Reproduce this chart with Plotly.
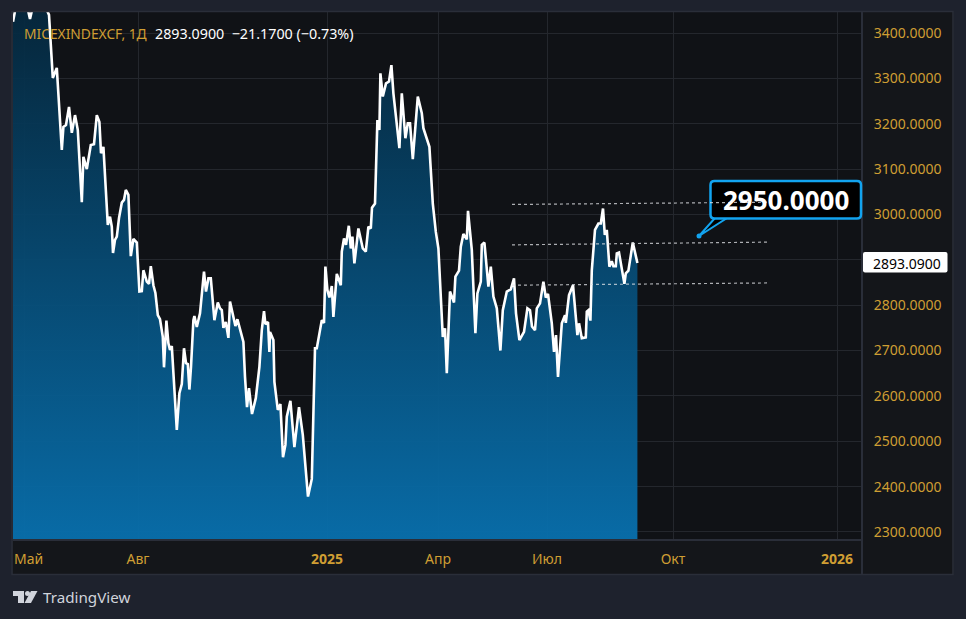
import plotly.graph_objects as go

# ---- data ----
bars = [0, 1.5, 7, 8.5, 10, 16, 18, 18.5, 19.9, 21.9, 24.4, 25.2, 26.5, 28, 29.4, 31, 32.4, 34.4, 35.2, 36.9,
        38.9, 40.5, 41.9, 43.2, 44, 45.2, 46, 47.4, 48.5, 49.4, 50, 51, 51.9, 53, 54.4, 55.5, 56.4, 57.7, 58.9, 60.2,
        61.9, 63.2, 64.4, 65.2, 66.9, 68, 68.9, 70.2, 71.2, 72.4, 73.5, 74.9, 75.5, 76.7, 77.7, 78.5, 79.4, 80.5, 81.9, 83.2,
        84.4, 85.5, 86.5, 87.4, 88.2, 89, 90.2, 90.7, 91.9, 93.5, 95.5, 96.5, 97.7, 98.9, 100.7, 102.4, 103.5, 104.4, 105.2, 106.4,
        107.7, 108.5, 110.2, 111.2, 112.2, 113.9, 115.2, 116, 117, 118, 119.5, 121.4, 123.2, 124.4, 125.5, 126.2, 127.5, 128.2, 128.5, 130.2,
        130.7, 132.4, 133.7, 135, 136.2, 136.9, 138.7, 140.7, 143, 144.9, 147.5, 149.4, 151, 151.9, 154.4, 155.5, 156.2, 157.2, 158.2, 159.4,
        160.2, 161.9, 163.9, 164.4, 165.5, 166.5, 167.9, 168.9, 169.7, 170.7, 172.7, 174.9, 176.4, 177.7, 178.9, 179.5, 181, 182.2, 183.2, 183.7,
        184.9, 186.5, 188, 189.2, 190.2, 193.2, 194.4, 196.2, 197.4, 198.5, 199.9, 202.4, 204.4, 205.2, 208.2, 209.9, 211.4, 212.7, 214.9, 216,
        216.9, 218.5, 220.5, 221.2, 223, 223.9, 225.2, 226.9, 227.5, 229.4, 231.2, 232.2, 233.9, 234.4, 235.7, 237.7, 238.9, 240.2, 241.9, 243.7,
        244.9, 246.9, 248.9, 250.5, 251.5, 253.2, 255.5, 257.2, 258.5, 259.5, 261, 261.9, 263.5, 265.2, 266.4, 267.5, 269.4, 270.5, 271.5, 272.5,
        274.4, 276, 276.4, 278, 280, 282.2, 283, 284.4, 286.4, 286.9, 287.7, 288.7, 289.4, 291, 292.7, 293.9, 295, 295.9, 296.9, 298.2,
        299.4, 300.2, 301.4, 301.9, 303, 305.7, 306.4, 307.7, 309.9, 312.2]
close = [3425, 3460, 3460, 3431, 3460, 3460, 3440, 3400, 3301, 3323, 3142, 3193, 3197, 3237, 3180, 3219, 3186, 3027, 3127, 3100,
         3153, 3155, 3219, 3204, 3135, 3149, 3076, 2977, 2995, 2973, 2915, 2944, 2951, 2992, 3026, 3032, 3054, 3043, 2908, 2946,
         2938, 2830, 2831, 2877, 2852, 2847, 2886, 2844, 2827, 2778, 2769, 2730, 2663, 2766, 2716, 2701, 2710, 2620, 2525, 2606,
         2626, 2705, 2672, 2670, 2614, 2664, 2767, 2776, 2752, 2782, 2874, 2830, 2859, 2859, 2767, 2806, 2793, 2789, 2750, 2763,
         2728, 2808, 2775, 2754, 2769, 2738, 2719, 2642, 2575, 2617, 2560, 2595, 2664, 2745, 2787, 2758, 2763, 2697, 2741, 2723,
         2631, 2569, 2582, 2465, 2492, 2554, 2589, 2487, 2575, 2514, 2378, 2417, 2705, 2705, 2767, 2761, 2885, 2833, 2817, 2842,
         2774, 2869, 2844, 2918, 2947, 2933, 2975, 2925, 2951, 2892, 2969, 2925, 2918, 2973, 2969, 3015, 3024, 3208, 3186, 3311,
         3260, 3289, 3293, 3329, 3267, 3146, 3267, 3168, 3201, 3201, 3122, 3260, 3223, 3190, 3149, 3024, 2962, 2925, 2730, 2749,
         2650, 2830, 2806, 2863, 2876, 2929, 2957, 2945, 3008, 2922, 2738, 2826, 2852, 2933, 2938, 2841, 2885, 2819, 2793, 2700,
         2789, 2830, 2835, 2859, 2782, 2723, 2741, 2793, 2789, 2753, 2745, 2793, 2804, 2852, 2817, 2825, 2760, 2697, 2734, 2642,
         2760, 2778, 2761, 2822, 2844, 2734, 2760, 2727, 2729, 2786, 2789, 2766, 2877, 2966, 2980, 2980, 3013, 2955, 2966, 2885,
         2897, 2886, 2886, 2914, 2916, 2847, 2870, 2876, 2938, 2893.09]

y_ticks = [3400, 3300, 3200, 3100, 3000, 2900, 2800, 2700, 2600, 2500, 2400, 2300]
# the 2900 label sits under the last price tag, so only its grid line shows
y_labels = ["3400.0000", "3300.0000", "3200.0000", "3100.0000", "3000.0000", "", "2800.0000",
            "2700.0000", "2600.0000", "2500.0000", "2400.0000", "2300.0000"]
x_ticks = [5.5, 62.5, 157, 212.5, 267, 330, 412]
# "Май" is an annotation below: as a tick label it hangs over the left edge and plotly widens the margin
x_labels = ["", "Авг", "<b>2025</b>", "Апр", "Июл", "Окт", "<b>2026</b>"]
first_label = "Май"

# three parallel dotted lines drawn on the chart
channel_x = [249.5, 377.5]
channel_top = [3022, 3027]
channel_mid = [2933, 2939]
channel_low = [2844, 2849]

callout_text = "2950.0000"
last_price = "2893.0900"
symbol_text = "MICEXINDEXCF, 1Д"
change_text = "2893.0900  −21.1700 (−0.73%)"

GOLD = "#cf9e33"
BORDER = "#2a2e39"
FONT = "Noto Sans"

# plot area in page pixels
L, R, T, B = 13, 862, 12, 540


def px(x):
    return (x - L) / (R - L)


def py(y):
    return (B - y) / (B - T)


def rect(x0, y0, x1, y1, fill, line=None, width=1, layer="below"):
    return dict(type="rect", xref="paper", yref="paper", x0=px(x0), x1=px(x1), y0=py(y0), y1=py(y1),
                fillcolor=fill, line=dict(color=line or fill, width=width), layer=layer)


def path(points, fill, line=None, width=0):
    d = "M " + " L ".join(f"{px(a):.5f},{py(b):.5f}" for a, b in points) + " Z"
    return dict(type="path", xref="paper", yref="paper", path=d, fillcolor=fill,
                line=dict(color=line or fill, width=width), layer="above")


def round_box(x0, y0, x1, y1, r):
    c = lambda a, b: f"{px(a):.5f},{py(b):.5f}"
    return (f"M {c(x0 + r, y0)} L {c(x1 - r, y0)} Q {c(x1, y0)} {c(x1, y0 + r)} L {c(x1, y1 - r)} "
            f"Q {c(x1, y1)} {c(x1 - r, y1)} L {c(x0 + r, y1)} Q {c(x0, y1)} {c(x0, y1 - r)} "
            f"L {c(x0, y0 + r)} Q {c(x0, y0)} {c(x0 + r, y0)} Z")


fig = go.Figure()

# area with vertical gradient
fig.add_trace(go.Scatter(
    x=bars, y=close, mode="lines",
    line=dict(color="#ffffff", width=2.6, shape="linear"),
    fill="tozeroy",
    fillgradient=dict(type="vertical", start=3446, stop=2282,
                      colorscale=[[0, "rgba(5,40,62,0.93)"], [1, "rgba(8,112,174,0.95)"]]),
    hoverinfo="skip", showlegend=False,
))

shapes = [
    # axis panels and frame
    rect(R, T, 953, 574, "#14161a"),
    rect(L, B, R, 574, "#14161a"),
    dict(type="line", xref="paper", yref="paper", x0=px(L), x1=px(R), y0=py(B), y1=py(B),
         line=dict(color=BORDER, width=2), layer="above"),
    dict(type="line", xref="paper", yref="paper", x0=px(R), x1=px(R), y0=py(T), y1=py(574),
         line=dict(color=BORDER, width=2), layer="above"),
    rect(12, 11.5, 953, 574.5, "rgba(0,0,0,0)", BORDER, 1.5, layer="above"),
    # callout pointer and box
    path([(699, 236), (715, 218), (727, 218)], "#000000", "#12a3ee", 2),
    dict(type="path", xref="paper", yref="paper", path=round_box(710.5, 181, 861, 218.5, 4),
         fillcolor="#000000", line=dict(color="#12a3ee", width=2.5), layer="above"),
    dict(type="circle", xref="paper", yref="paper", x0=px(696.5), x1=px(701.5), y0=py(233.5), y1=py(238.5),
         fillcolor="#12a3ee", line=dict(width=0), layer="above"),
    # last price tag
    dict(type="path", xref="paper", yref="paper", path=round_box(863, 252, 947.5, 272.5, 2),
         fillcolor="#ffffff", line=dict(width=0), layer="above"),
    # TradingView logo
    path([(13, 591), (24, 591), (24, 603), (18, 603), (18, 596), (13, 596)], "#d1d4dc"),
    dict(type="circle", xref="paper", yref="paper", x0=px(25), x1=px(30), y0=py(591), y1=py(596),
         fillcolor="#d1d4dc", line=dict(width=0), layer="above"),
    path([(31, 591), (37.5, 591), (31, 603), (24.5, 603)], "#d1d4dc"),
]

# dotted channel lines on top of the series
for vals in (channel_top, channel_mid, channel_low):
    shapes.append(dict(type="line", xref="x", yref="y", x0=channel_x[0], x1=channel_x[1], y0=vals[0], y1=vals[1],
                       line=dict(color="rgba(225,228,232,0.75)", width=1.2, dash="dot"), layer="above"))

annotations = [
    dict(text=symbol_text, x=px(21.5), y=py(33), font=dict(color=GOLD, size=13.8, family=FONT)),
    dict(text=change_text, x=px(152.5), y=py(33), font=dict(color="#ffffff", size=14.3, family=FONT)),
    dict(text=f"<b>{callout_text}</b>", x=px(720.5), y=py(199.5), font=dict(color="#ffffff", size=26, family=FONT)),
    dict(text=last_price, x=px(871), y=py(263), font=dict(color="#000000", size=14, family=FONT)),
    dict(text="TradingView", x=px(40.5), y=py(597), font=dict(color="#d1d4dc", size=15.2, family=FONT)),
    dict(text=first_label, x=px(11.5), y=py(558), font=dict(color=GOLD, size=14, family=FONT)),
]
for a in annotations:
    a.update(xref="paper", yref="paper", xanchor="left", yanchor="middle", showarrow=False)

fig.update_layout(
    width=966, height=619,
    margin=dict(l=L, r=966 - R, t=T, b=619 - B),
    paper_bgcolor="#1e222d",
    plot_bgcolor="#101216",
    shapes=shapes,
    annotations=annotations,
    font=dict(family=FONT, color=GOLD, size=14),
    xaxis=dict(range=[0, 424.5], tickvals=x_ticks, ticktext=x_labels, showgrid=True, gridcolor="#24272d",
               gridwidth=1, zeroline=False, ticks="outside", ticklen=6, tickcolor="rgba(0,0,0,0)",
               tickangle=0, showline=False, fixedrange=True),
    yaxis=dict(range=[2282.3, 3446.3], side="right", tickvals=y_ticks, ticktext=y_labels,
               showgrid=True, gridcolor="#24272d", gridwidth=1, zeroline=False, ticks="outside", ticklen=8,
               tickcolor="rgba(0,0,0,0)", showline=False, fixedrange=True),
)

fig.write_html("out.html", config={"displayModeBar": False},
               post_script="document.body.style.margin='0';")
